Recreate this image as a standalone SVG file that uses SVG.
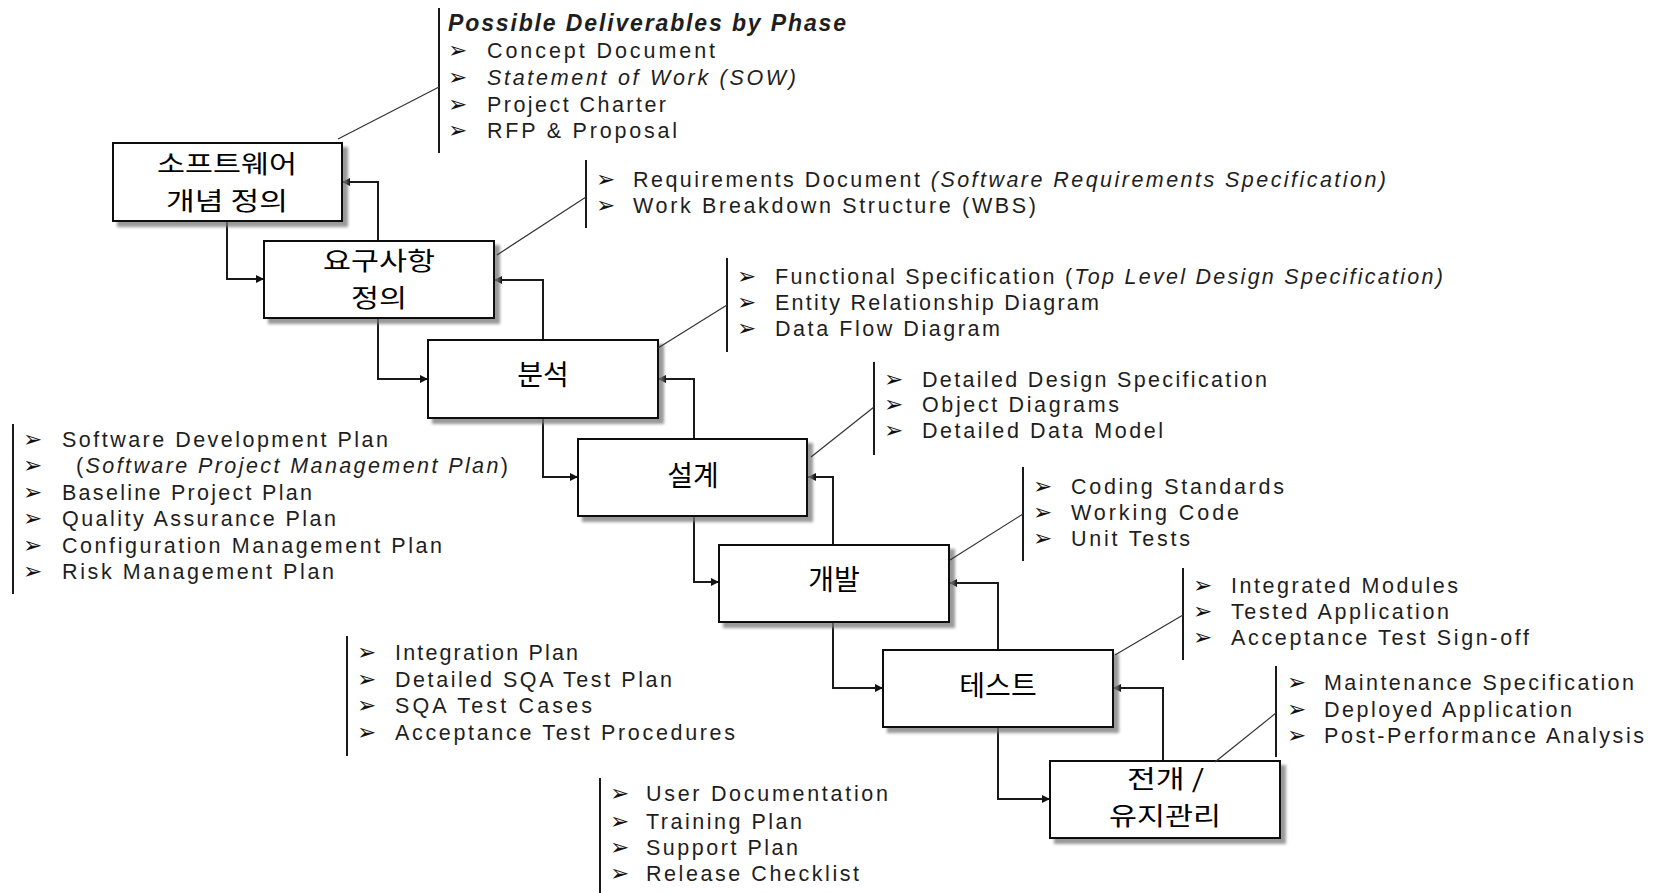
<svg xmlns="http://www.w3.org/2000/svg" width="1658" height="893" viewBox="0 0 1658 893">
<style>
.t{font-family:"Liberation Sans",Arial,sans-serif;font-size:21.5px;fill:#1e1e1e}
.i{font-style:italic}
.h{font-family:"Liberation Sans",Arial,sans-serif;font-size:23px;font-weight:bold;font-style:italic;fill:#1e1e1e}
.b{font-family:"DejaVu Sans",sans-serif;font-size:23px;fill:#111}
.k{font-family:"Noto Sans CJK KR","Noto Sans CJK SC",sans-serif;font-size:28px;font-weight:400;text-anchor:middle;fill:#000}
.k2{font-family:"Noto Sans CJK KR","Noto Sans CJK SC",sans-serif;font-size:25px;font-weight:400;fill:#000}
.box{fill:#fff;stroke:#111;stroke-width:2;filter:url(#sh)}
.c{fill:none;stroke:#1a1a1a;stroke-width:2;marker-end:url(#arr)}
.bar{stroke:#1a1a1a;stroke-width:2}
.d{stroke:#333;stroke-width:1.2}
</style>
<defs>
<filter id="sh" x="-5%" y="-5%" width="115%" height="130%">
<feDropShadow dx="5" dy="5" stdDeviation="1.5" flood-color="#777" flood-opacity="0.75"/>
</filter>
<marker id="arr" viewBox="0 0 10 10" refX="10" refY="5" markerWidth="9" markerHeight="8" markerUnits="userSpaceOnUse" orient="auto">
<path d="M0,0 L10,5 L0,10 z" fill="#111"/>
</marker>
</defs>
<rect width="1658" height="893" fill="#fff"/>

<g id="connectors">
<path class="c" d="M227,221 V279 H264"/>
<path class="c" d="M378,241 V182 H342"/>
<path class="c" d="M378,318 V379 H428"/>
<path class="c" d="M543,340 V280 H494"/>
<path class="c" d="M543,418 V477 H578"/>
<path class="c" d="M694,439 V379 H658"/>
<path class="c" d="M694,516 V582 H719"/>
<path class="c" d="M833,545 V477 H808"/>
<path class="c" d="M833,622 V688 H883"/>
<path class="c" d="M998,650 V583 H949"/>
<path class="c" d="M998,727 V799 H1050"/>
<path class="c" d="M1163,761 V688 H1113"/>
</g>

<g id="node-concept">
<rect class="box" x="113" y="143" width="229" height="78"/>
<text class="k2" x="157" y="172.5" textLength="140" lengthAdjust="spacingAndGlyphs">소프트웨어</text>
<text class="k2" x="166" y="209.5" textLength="122" lengthAdjust="spacingAndGlyphs">개념 정의</text>
</g>
<g id="node-requirements">
<rect class="box" x="264" y="241" width="230" height="77"/>
<text class="k2" x="323" y="270" textLength="112" lengthAdjust="spacingAndGlyphs">요구사항</text>
<text class="k2" x="351" y="307" textLength="56" lengthAdjust="spacingAndGlyphs">정의</text>
</g>
<g id="node-analysis">
<rect class="box" x="428" y="340" width="230" height="78"/>
<text class="k" x="543" y="385">분석</text>
</g>
<g id="node-design">
<rect class="box" x="578" y="439" width="229" height="77"/>
<text class="k" x="693" y="486">설계</text>
</g>
<g id="node-development">
<rect class="box" x="719" y="545" width="230" height="77"/>
<text class="k" x="834" y="590">개발</text>
</g>
<g id="node-test">
<rect class="box" x="883" y="650" width="230" height="77"/>
<text class="k" x="998" y="696">테스트</text>
</g>
<g id="node-deploy">
<rect class="box" x="1050" y="761" width="230" height="77"/>
<text class="k2" x="1127" y="788" textLength="77" lengthAdjust="spacingAndGlyphs">전개 /</text>
<text class="k2" x="1109" y="825" textLength="112" lengthAdjust="spacingAndGlyphs">유지관리</text>
</g>

<g id="deliverables-concept">
<line class="bar" x1="439" y1="8" x2="439" y2="153"/>
<line class="d" x1="338" y1="139" x2="439" y2="87"/>
<text class="h" x="448" y="31" textLength="398" lengthAdjust="spacing">Possible Deliverables by Phase</text>
<text class="b" x="448" y="58">➢</text><text class="t" x="487" y="58" textLength="228" lengthAdjust="spacing">Concept Document</text>
<text class="b" x="448" y="85">➢</text><text class="t i" x="487" y="85" textLength="309" lengthAdjust="spacing">Statement of Work (SOW)</text>
<text class="b" x="448" y="112">➢</text><text class="t" x="487" y="112" textLength="179" lengthAdjust="spacing">Project Charter</text>
<text class="b" x="448" y="138">➢</text><text class="t" x="487" y="138" textLength="190" lengthAdjust="spacing">RFP &amp; Proposal</text>
</g>

<g id="deliverables-requirements">
<line class="bar" x1="586" y1="160" x2="586" y2="228"/>
<line class="d" x1="497" y1="255" x2="586" y2="197"/>
<text class="b" x="596" y="187">➢</text><text class="t" x="633" y="187" textLength="753" lengthAdjust="spacing">Requirements Document <tspan class="i">(Software Requirements Specification)</tspan></text>
<text class="b" x="596" y="213">➢</text><text class="t" x="633" y="213" textLength="403" lengthAdjust="spacing">Work Breakdown Structure (WBS)</text>
</g>

<g id="deliverables-analysis">
<line class="bar" x1="727" y1="258" x2="727" y2="352"/>
<line class="d" x1="658" y1="348" x2="727" y2="305"/>
<text class="b" x="737" y="284">➢</text><text class="t" x="775" y="284" textLength="668" lengthAdjust="spacing">Functional Specification (<tspan class="i">Top Level Design Specification)</tspan></text>
<text class="b" x="737" y="310">➢</text><text class="t" x="775" y="310" textLength="324" lengthAdjust="spacing">Entity Relationship Diagram</text>
<text class="b" x="737" y="336">➢</text><text class="t" x="775" y="336" textLength="225" lengthAdjust="spacing">Data Flow Diagram</text>
</g>

<g id="deliverables-design">
<line class="bar" x1="874" y1="362" x2="874" y2="455"/>
<line class="d" x1="811" y1="457" x2="874" y2="407"/>
<text class="b" x="884" y="387">➢</text><text class="t" x="922" y="387" textLength="345" lengthAdjust="spacing">Detailed Design Specification</text>
<text class="b" x="884" y="412">➢</text><text class="t" x="922" y="412" textLength="197" lengthAdjust="spacing">Object Diagrams</text>
<text class="b" x="884" y="438">➢</text><text class="t" x="922" y="438" textLength="241" lengthAdjust="spacing">Detailed Data Model</text>
</g>

<g id="deliverables-development">
<line class="bar" x1="1023" y1="467" x2="1023" y2="561"/>
<line class="d" x1="950" y1="560" x2="1023" y2="514"/>
<text class="b" x="1033" y="494">➢</text><text class="t" x="1071" y="494" textLength="213" lengthAdjust="spacing">Coding Standards</text>
<text class="b" x="1033" y="520">➢</text><text class="t" x="1071" y="520" textLength="168" lengthAdjust="spacing">Working Code</text>
<text class="b" x="1033" y="546">➢</text><text class="t" x="1071" y="546" textLength="119" lengthAdjust="spacing">Unit Tests</text>
</g>

<g id="deliverables-test">
<line class="bar" x1="1183" y1="568" x2="1183" y2="660"/>
<line class="d" x1="1115" y1="655" x2="1183" y2="615"/>
<text class="b" x="1193" y="593">➢</text><text class="t" x="1231" y="593" textLength="227" lengthAdjust="spacing">Integrated Modules</text>
<text class="b" x="1193" y="619">➢</text><text class="t" x="1231" y="619" textLength="218" lengthAdjust="spacing">Tested Application</text>
<text class="b" x="1193" y="645">➢</text><text class="t" x="1231" y="645" textLength="298" lengthAdjust="spacing">Acceptance Test Sign-off</text>
</g>

<g id="deliverables-deploy">
<line class="bar" x1="1276" y1="666" x2="1276" y2="757"/>
<line class="d" x1="1215" y1="762" x2="1276" y2="713"/>
<text class="b" x="1287" y="690">➢</text><text class="t" x="1324" y="690" textLength="310" lengthAdjust="spacing">Maintenance Specification</text>
<text class="b" x="1287" y="717">➢</text><text class="t" x="1324" y="717" textLength="248" lengthAdjust="spacing">Deployed Application</text>
<text class="b" x="1287" y="743">➢</text><text class="t" x="1324" y="743" textLength="320" lengthAdjust="spacing">Post-Performance Analysis</text>
</g>

<g id="plans-left">
<line class="bar" x1="13" y1="424" x2="13" y2="594"/>
<text class="b" x="23" y="447">➢</text><text class="t" x="62" y="447" textLength="326" lengthAdjust="spacing">Software Development Plan</text>
<text class="b" x="23" y="473">➢</text><text class="t" x="76" y="473" textLength="432" lengthAdjust="spacing">(<tspan class="i">Software Project Management Plan</tspan>)</text>
<text class="b" x="23" y="500">➢</text><text class="t" x="62" y="500" textLength="250" lengthAdjust="spacing">Baseline Project Plan</text>
<text class="b" x="23" y="526">➢</text><text class="t" x="62" y="526" textLength="274" lengthAdjust="spacing">Quality Assurance Plan</text>
<text class="b" x="23" y="553">➢</text><text class="t" x="62" y="553" textLength="380" lengthAdjust="spacing">Configuration Management Plan</text>
<text class="b" x="23" y="579">➢</text><text class="t" x="62" y="579" textLength="272" lengthAdjust="spacing">Risk Management Plan</text>
</g>

<g id="plans-middle">
<line class="bar" x1="347" y1="636" x2="347" y2="756"/>
<text class="b" x="357" y="660">➢</text><text class="t" x="395" y="660" textLength="183" lengthAdjust="spacing">Integration Plan</text>
<text class="b" x="357" y="687">➢</text><text class="t" x="395" y="687" textLength="277" lengthAdjust="spacing">Detailed SQA Test Plan</text>
<text class="b" x="357" y="713">➢</text><text class="t" x="395" y="713" textLength="197" lengthAdjust="spacing">SQA Test Cases</text>
<text class="b" x="357" y="740">➢</text><text class="t" x="395" y="740" textLength="340" lengthAdjust="spacing">Acceptance Test Procedures</text>
</g>

<g id="plans-bottom">
<line class="bar" x1="600" y1="778" x2="600" y2="893"/>
<text class="b" x="610" y="801">➢</text><text class="t" x="646" y="801" textLength="242" lengthAdjust="spacing">User Documentation</text>
<text class="b" x="610" y="829">➢</text><text class="t" x="646" y="829" textLength="156" lengthAdjust="spacing">Training Plan</text>
<text class="b" x="610" y="855">➢</text><text class="t" x="646" y="855" textLength="152" lengthAdjust="spacing">Support Plan</text>
<text class="b" x="610" y="881">➢</text><text class="t" x="646" y="881" textLength="213" lengthAdjust="spacing">Release Checklist</text>
</g>
</svg>
